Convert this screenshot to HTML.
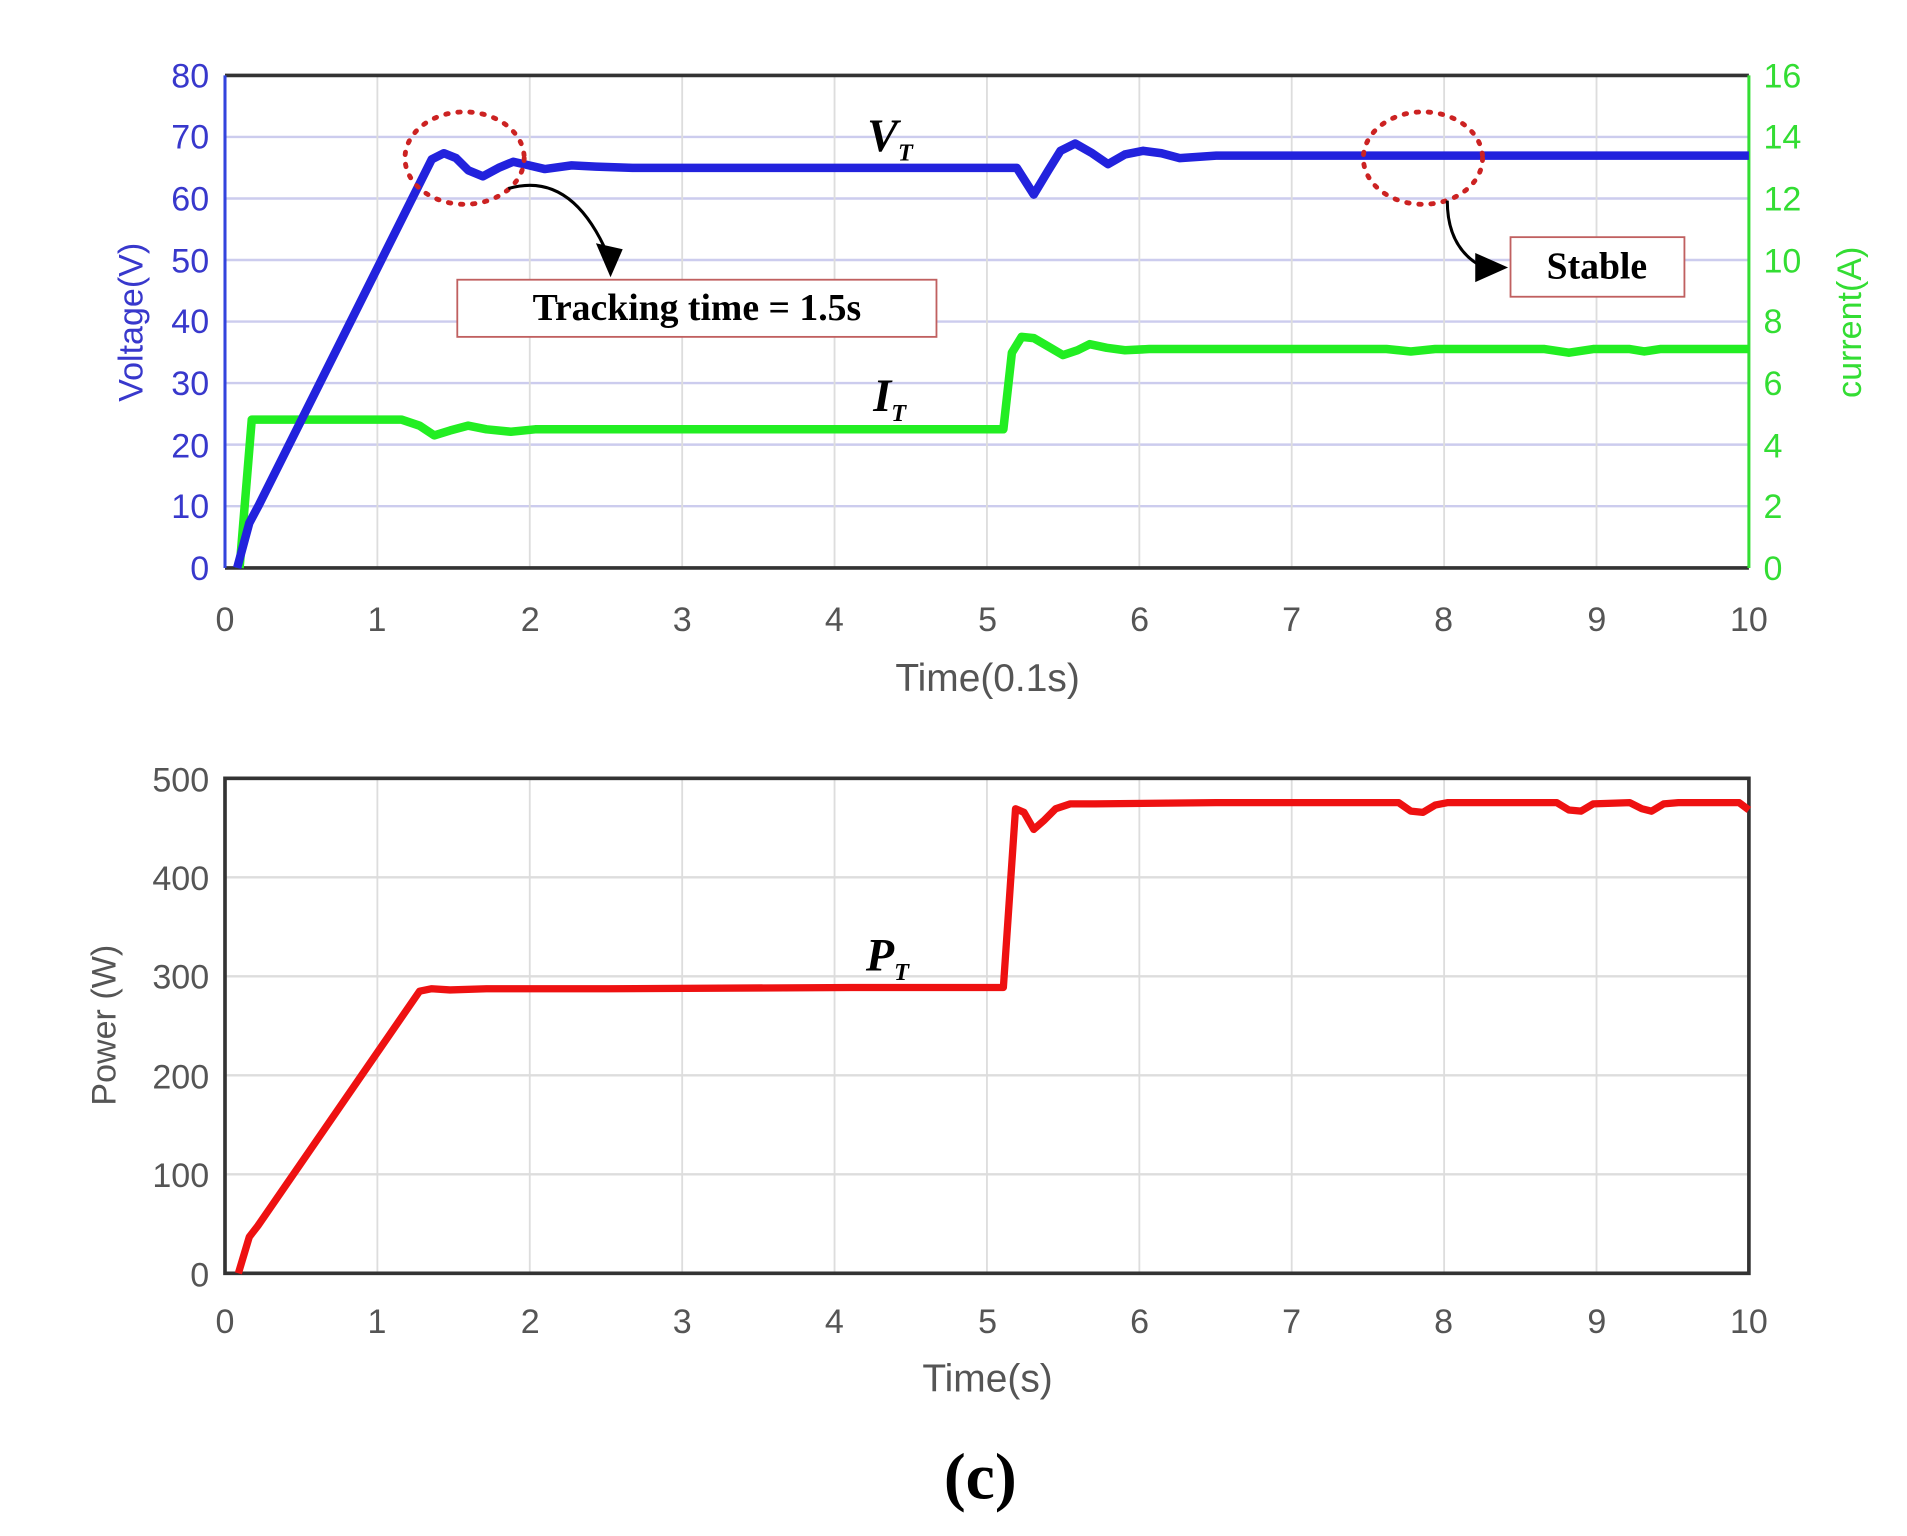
<!DOCTYPE html>
<html><head><meta charset="utf-8"><style>
html,body{margin:0;padding:0;background:#fff;}
svg{display:block;}
.t{font-family:"Liberation Sans",sans-serif;font-size:28px;}
.s{font-family:"Liberation Serif",serif;}
</style></head><body>
<svg width="1907" height="1536" viewBox="0 0 1568 1263" preserveAspectRatio="none" xmlns="http://www.w3.org/2000/svg">
<rect width="1568" height="1263" fill="#fff"/>
<!-- TOP PLOT -->
<g stroke="#ccccee" stroke-width="2">
<line x1="185" y1="112.6" x2="1438" y2="112.6"/><line x1="185" y1="163.2" x2="1438" y2="163.2"/>
<line x1="185" y1="213.8" x2="1438" y2="213.8"/><line x1="185" y1="264.4" x2="1438" y2="264.4"/>
<line x1="185" y1="315" x2="1438" y2="315"/><line x1="185" y1="365.6" x2="1438" y2="365.6"/>
<line x1="185" y1="416.2" x2="1438" y2="416.2"/>
</g>
<g stroke="#dddddd" stroke-width="1.5">
<line x1="310.3" y1="62" x2="310.3" y2="467"/><line x1="435.6" y1="62" x2="435.6" y2="467"/>
<line x1="560.9" y1="62" x2="560.9" y2="467"/><line x1="686.2" y1="62" x2="686.2" y2="467"/>
<line x1="811.5" y1="62" x2="811.5" y2="467"/><line x1="936.8" y1="62" x2="936.8" y2="467"/>
<line x1="1062.1" y1="62" x2="1062.1" y2="467"/><line x1="1187.4" y1="62" x2="1187.4" y2="467"/>
<line x1="1312.7" y1="62" x2="1312.7" y2="467"/>
</g>
<line x1="185" y1="62" x2="1438" y2="62" stroke="#333" stroke-width="3"/>
<line x1="185" y1="467" x2="1438" y2="467" stroke="#333" stroke-width="3"/>
<line x1="185" y1="62" x2="185" y2="467" stroke="#3344dd" stroke-width="2.5"/>
<line x1="1438" y1="62" x2="1438" y2="467" stroke="#33dd33" stroke-width="2.5"/>
<g class="t" fill="#3838cc" text-anchor="end">
<text x="172" y="72">80</text><text x="172" y="122">70</text><text x="172" y="173">60</text>
<text x="172" y="224">50</text><text x="172" y="274">40</text><text x="172" y="325">30</text>
<text x="172" y="376">20</text><text x="172" y="426">10</text><text x="172" y="477">0</text>
</g>
<g class="t" fill="#33dd33">
<text x="1450" y="72">16</text><text x="1450" y="122">14</text><text x="1450" y="173">12</text>
<text x="1450" y="224">10</text><text x="1450" y="274">8</text><text x="1450" y="325">6</text>
<text x="1450" y="376">4</text><text x="1450" y="426">2</text><text x="1450" y="477">0</text>
</g>
<text class="t" fill="#3838cc" transform="translate(117,265) rotate(-90)" text-anchor="middle" font-size="30">Voltage(V)</text>
<text class="t" fill="#33dd33" transform="translate(1530,265) rotate(-90)" text-anchor="middle" font-size="30">current(A)</text>
<g class="t" fill="#555" text-anchor="middle" font-size="30">
<text x="185" y="519">0</text><text x="310" y="519">1</text><text x="436" y="519">2</text>
<text x="561" y="519">3</text><text x="686" y="519">4</text><text x="812" y="519">5</text>
<text x="937" y="519">6</text><text x="1062" y="519">7</text><text x="1187" y="519">8</text>
<text x="1313" y="519">9</text><text x="1438" y="519">10</text>
<text x="812" y="568" font-size="32">Time(0.1s)</text>
</g>
<polyline fill="none" stroke="#22ee22" stroke-width="7" stroke-linejoin="round" points="
197,467 207,345 330,345 345,350 357,358 370,354 385,350 400,353 420,355 440,353 500,353 600,353 700,353 825,353 832,290 840,277 850,278 862,285 874,292 886,288 896,283 910,286 925,288 945,287 1000,287 1140,287 1160,289 1180,287 1270,287 1290,290 1310,287 1340,287 1352,289 1365,287 1438,287"/>
<polyline fill="none" stroke="#2222dd" stroke-width="7" stroke-linejoin="round" points="
195,467 205,430 213,415 355,131 365,126 375,130 385,140 397,145 410,138 422,133 435,136 448,139 470,136 490,137 520,138 600,138 700,138 836,138 850,160 862,140 872,124 884,118 898,126 911,135 925,127 940,124 955,126 970,130 1000,128 1050,128 1100,128 1438,128"/>
<ellipse cx="382" cy="130" rx="49" ry="38" fill="none" stroke="#cc2222" stroke-width="4" stroke-dasharray="2 8" stroke-linecap="round"/>
<ellipse cx="1170" cy="130" rx="49" ry="38" fill="none" stroke="#cc2222" stroke-width="4" stroke-dasharray="2 8" stroke-linecap="round"/>
<path d="M418,155 Q470,140 500,210" fill="none" stroke="#000" stroke-width="2.5"/>
<polygon points="490,200 512,205 502,228" fill="#000"/>
<path d="M1190,165 Q1190,205 1220,220" fill="none" stroke="#000" stroke-width="2.5"/>
<polygon points="1213,208 1240,220 1213,232" fill="#000"/>
<rect x="376" y="230" width="394" height="47" fill="#fff" stroke="#c06060" stroke-width="1.5"/>
<text class="s" x="573" y="263" font-size="31" font-weight="bold" text-anchor="middle">Tracking time = 1.5s</text>
<rect x="1242" y="195" width="143" height="49" fill="#fff" stroke="#c06060" stroke-width="1.5"/>
<text class="s" x="1313" y="229" font-size="31" font-weight="bold" text-anchor="middle">Stable</text>
<text class="s" x="713" y="124" font-size="38" font-weight="bold" font-style="italic">V<tspan font-size="20" dy="8">T</tspan></text>
<text class="s" x="718" y="338" font-size="38" font-weight="bold" font-style="italic">I<tspan font-size="20" dy="8">T</tspan></text>

<!-- BOTTOM PLOT -->
<g stroke="#dddddd" stroke-width="2">
<line x1="185" y1="721.4" x2="1438" y2="721.4"/><line x1="185" y1="802.8" x2="1438" y2="802.8"/>
<line x1="185" y1="884.2" x2="1438" y2="884.2"/><line x1="185" y1="965.6" x2="1438" y2="965.6"/>
</g>
<g stroke="#dddddd" stroke-width="1.5">
<line x1="310.3" y1="640" x2="310.3" y2="1047"/><line x1="435.6" y1="640" x2="435.6" y2="1047"/>
<line x1="560.9" y1="640" x2="560.9" y2="1047"/><line x1="686.2" y1="640" x2="686.2" y2="1047"/>
<line x1="811.5" y1="640" x2="811.5" y2="1047"/><line x1="936.8" y1="640" x2="936.8" y2="1047"/>
<line x1="1062.1" y1="640" x2="1062.1" y2="1047"/><line x1="1187.4" y1="640" x2="1187.4" y2="1047"/>
<line x1="1312.7" y1="640" x2="1312.7" y2="1047"/>
</g>
<rect x="185" y="640" width="1253" height="407" fill="none" stroke="#333" stroke-width="3"/>
<g class="t" fill="#555" text-anchor="end" font-size="30">
<text x="172" y="651">500</text><text x="172" y="732">400</text><text x="172" y="813">300</text>
<text x="172" y="895">200</text><text x="172" y="976">100</text><text x="172" y="1058">0</text>
</g>
<text class="t" fill="#555" transform="translate(95,843) rotate(-90)" text-anchor="middle" font-size="31">Power (W)</text>
<g class="t" fill="#555" text-anchor="middle" font-size="30">
<text x="185" y="1096">0</text><text x="310" y="1096">1</text><text x="436" y="1096">2</text>
<text x="561" y="1096">3</text><text x="686" y="1096">4</text><text x="812" y="1096">5</text>
<text x="937" y="1096">6</text><text x="1062" y="1096">7</text><text x="1187" y="1096">8</text>
<text x="1313" y="1096">9</text><text x="1438" y="1096">10</text>
<text x="812" y="1144" font-size="32">Time(s)</text>
</g>
<polyline fill="none" stroke="#ee1111" stroke-width="6" stroke-linejoin="round" points="
196,1047 205,1017 212,1008 345,815 355,813 370,814 400,813 500,813 700,812 825,812 835,665 842,668 850,682 858,675 868,665 880,661 900,661 1000,660 1150,660 1160,667 1170,668 1180,662 1190,660 1280,660 1290,666 1300,667 1310,661 1340,660 1350,665 1358,667 1368,661 1380,660 1430,660 1438,666"/>
<text class="s" x="712" y="798" font-size="38" font-weight="bold" font-style="italic">P<tspan font-size="20" dy="8">T</tspan></text>
<text class="s" x="806" y="1232" font-size="54" font-weight="bold" text-anchor="middle">(c)</text>
</svg>
</body></html>
